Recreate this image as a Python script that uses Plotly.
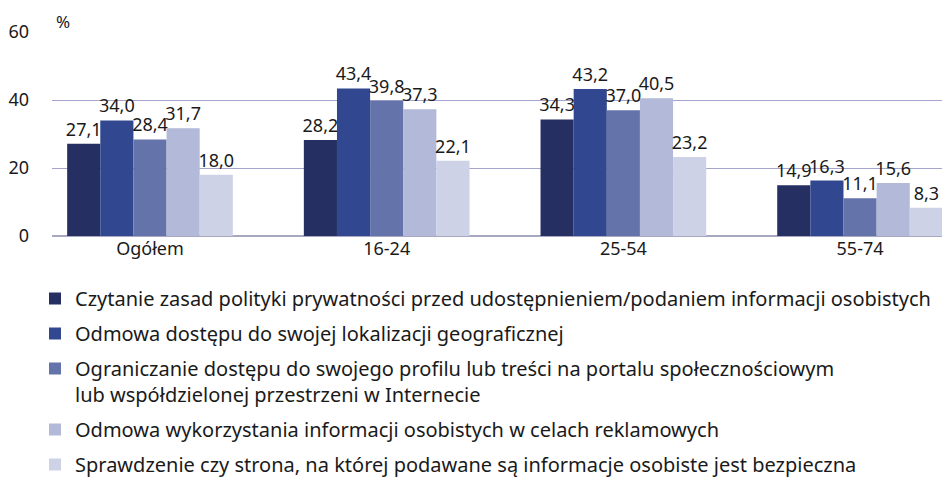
import plotly.graph_objects as go

categories = ["Ogółem", "16-24", "25-54", "55-74"]
series_names = [
    "Czytanie zasad polityki prywatności przed udostępnieniem/podaniem informacji osobistych",
    "Odmowa dostępu do swojej lokalizacji geograficznej",
    "Ograniczanie dostępu do swojego profilu lub treści na portalu społecznościowym<br>lub współdzielonej przestrzeni w Internecie",
    "Odmowa wykorzystania informacji osobistych w celach reklamowych",
    "Sprawdzenie czy strona, na której podawane są informacje osobiste jest bezpieczna",
]
czytanie = [27.1, 28.2, 34.3, 14.9]
lokalizacja = [34.0, 43.4, 43.2, 16.3]
profil = [28.4, 39.8, 37.0, 11.1]
reklamy = [31.7, 37.3, 40.5, 15.6]
bezpieczna = [18.0, 22.1, 23.2, 8.3]
y_ticks = [0, 20, 40, 60]

colors = ["#252f62", "#314890", "#6473a9", "#b2b9d9", "#cdd2e7"]
FONT = "Noto Sans"

fig = go.Figure()
for i, (name, vals) in enumerate(zip(series_names,
                                     [czytanie, lokalizacja, profil, reklamy, bezpieczna])):
    fig.add_trace(go.Bar(
        x=categories, y=vals, name=name,
        marker=dict(color=colors[i], line=dict(width=0)),
        text=vals, texttemplate="%{y:.1f}", textposition="outside",
        textfont=dict(size=18, color="#1a1a1a", family=FONT),
        constraintext="none", cliponaxis=False, legendgroup=str(i),
    ))

# page body adds an 8px margin, so the figure is a bit smaller and shifted
fig.update_layout(
    width=942, height=473,
    margin=dict(l=44, r=0, t=24, b=245, autoexpand=False),
    plot_bgcolor="white", paper_bgcolor="white",
    font=dict(family=FONT, size=18, color="#1a1a1a"),
    separators=", ",
    barmode="group", bargap=0.3, bargroupgap=0,
    showlegend=True,
    legend=dict(
        xref="paper", yref="paper",
        x=-17 / 898, y=-43 / 204, xanchor="left", yanchor="top",
        font=dict(size=20, family=FONT),
        valign="top", tracegroupgap=6, itemwidth=30,
        bgcolor="rgba(0,0,0,0)",
    ),
    xaxis=dict(
        range=[-0.414, 3.38], showgrid=False, ticks="",
        tickfont=dict(size=18), showline=False, tickangle=0,
    ),
    yaxis=dict(
        range=[0, 60], tickvals=y_ticks, showgrid=True,
        gridcolor="#a4a4cc", gridwidth=1,
        zeroline=True, zerolinecolor="#a8a8c0", zerolinewidth=2,
        ticks="", tickfont=dict(size=18), ticklabelstandoff=22,
    ),
    annotations=[dict(
        text="%", xref="paper", yref="paper", x=0, y=1, xanchor="left",
        yanchor="middle", xshift=2, yshift=11, showarrow=False, font=dict(size=17),
    )],
)

fig.write_html("out.html")
